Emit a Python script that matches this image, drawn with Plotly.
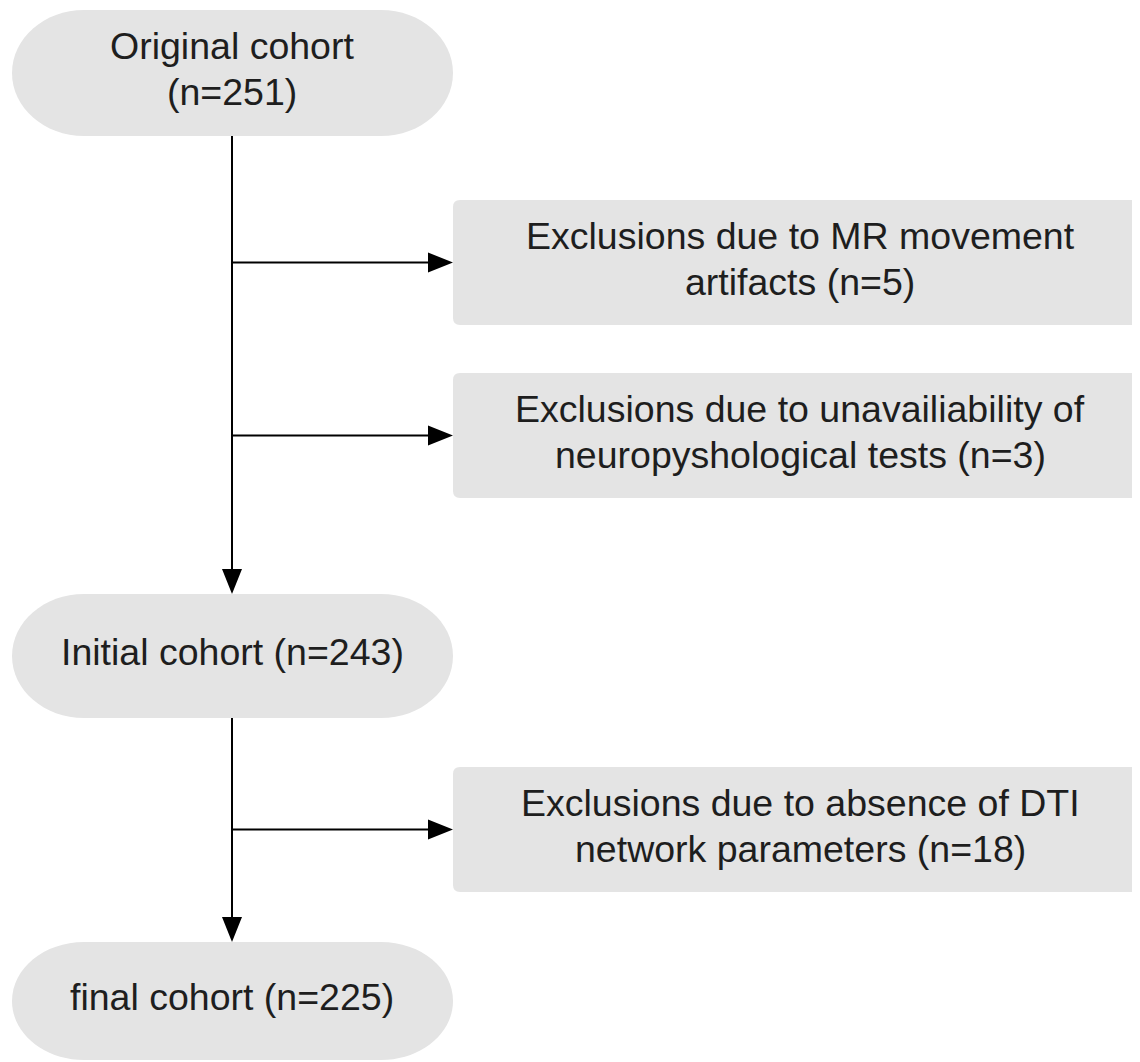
import plotly.graph_objects as go

# ---- data ----
cohort_labels = ["Original cohort<br>(n={})", "Initial cohort (n={})", "final cohort (n={})"]
cohort_n = [251, 243, 225]
exclusion_labels = [
    "Exclusions due to MR movement<br>artifacts (n={})",
    "Exclusions due to unavailiability of<br>neuropyshological tests (n={})",
    "Exclusions due to absence of DTI<br>network parameters (n={})",
]
exclusion_n = [5, 3, 18]

# ---- layout geometry (page pixels, y downward) ----
W, H = 1140, 1062
PAGE_OFF = 8  # default body margin of the html page
col_x = 232
stad_x0, stad_x1 = 12, 453
stad_y = [(10, 136), (594, 718), (942, 1060)]
cap_rx = 72
box_x0, box_x1 = 453, 1147
box_y = [(200, 325), (373, 498), (767, 892)]
box_r = 7
arrow_len, arrow_w = 25, 20
line_gap = 46
text_shift = -4
fill = "#e4e4e4"
txt_col = "#1e1e1e"
font = dict(family="Liberation Sans, Arial, sans-serif", size=37.5, color=txt_col)
K = 0.5523

def stadium(x0, x1, y0, y1, rx):
    ry = (y1 - y0) / 2
    cy = (y0 + y1) / 2
    a, b = x0 + rx, x1 - rx
    p = f"M {a},{y0} L {b},{y0} "
    p += f"C {b + K*rx},{y0} {x1},{cy - K*ry} {x1},{cy} "
    p += f"C {x1},{cy + K*ry} {b + K*rx},{y1} {b},{y1} "
    p += f"L {a},{y1} "
    p += f"C {a - K*rx},{y1} {x0},{cy + K*ry} {x0},{cy} "
    p += f"C {x0},{cy - K*ry} {a - K*rx},{y0} {a},{y0} Z"
    return p

def rrect(x0, x1, y0, y1, r):
    return (f"M {x0+r},{y0} L {x1-r},{y0} Q {x1},{y0} {x1},{y0+r} L {x1},{y1-r} "
            f"Q {x1},{y1} {x1-r},{y1} L {x0+r},{y1} Q {x0},{y1} {x0},{y1-r} "
            f"L {x0},{y0+r} Q {x0},{y0} {x0+r},{y0} Z")

shapes = []
annotations = []

def add_text(cx, cy, text):
    lines = text.split("<br>")
    n = len(lines)
    for i, ln in enumerate(lines):
        y = cy + text_shift + (i - (n - 1) / 2) * line_gap
        annotations.append(dict(x=cx, y=y, text=ln, showarrow=False,
                                xanchor="center", yanchor="middle", font=font))

for (y0, y1), lab, n in zip(stad_y, cohort_labels, cohort_n):
    shapes.append(dict(type="path", path=stadium(stad_x0, stad_x1, y0, y1, cap_rx),
                       fillcolor=fill, line=dict(width=0), layer="below"))
    add_text(col_x, (y0 + y1) / 2, lab.format(n))

for (y0, y1), lab, n in zip(box_y, exclusion_labels, exclusion_n):
    shapes.append(dict(type="path", path=rrect(box_x0, box_x1, y0, y1, box_r),
                       fillcolor=fill, line=dict(width=0), layer="below"))
    add_text((box_x0 + box_x1) / 2, (y0 + y1) / 2, lab.format(n))
    ay = (y0 + y1) / 2
    shapes.append(dict(type="line", x0=col_x, x1=box_x0 - arrow_len + 2, y0=ay, y1=ay,
                       line=dict(color="black", width=2)))
    shapes.append(dict(type="path",
                       path=f"M {box_x0},{ay} L {box_x0-arrow_len},{ay-arrow_w/2} L {box_x0-arrow_len},{ay+arrow_w/2} Z",
                       fillcolor="black", line=dict(width=0)))

# vertical connectors between cohorts
for i in range(len(stad_y) - 1):
    ys = stad_y[i][1]
    ye = stad_y[i + 1][0]
    shapes.append(dict(type="line", x0=col_x, x1=col_x, y0=ys, y1=ye - arrow_len + 2,
                       line=dict(color="black", width=2)))
    shapes.append(dict(type="path",
                       path=f"M {col_x},{ye} L {col_x-arrow_w/2},{ye-arrow_len} L {col_x+arrow_w/2},{ye-arrow_len} Z",
                       fillcolor="black", line=dict(width=0)))

fig_w = W - 2 * PAGE_OFF
fig_h = H - PAGE_OFF
fig = go.Figure()
fig.update_layout(
    width=fig_w, height=fig_h, margin=dict(l=0, r=0, t=0, b=0),
    paper_bgcolor="white", plot_bgcolor="white",
    xaxis=dict(range=[PAGE_OFF, PAGE_OFF + fig_w], visible=False, fixedrange=True),
    yaxis=dict(range=[PAGE_OFF + fig_h, PAGE_OFF], visible=False, fixedrange=True),
    shapes=shapes, annotations=annotations, showlegend=False,
)
fig.write_html("out.html")
